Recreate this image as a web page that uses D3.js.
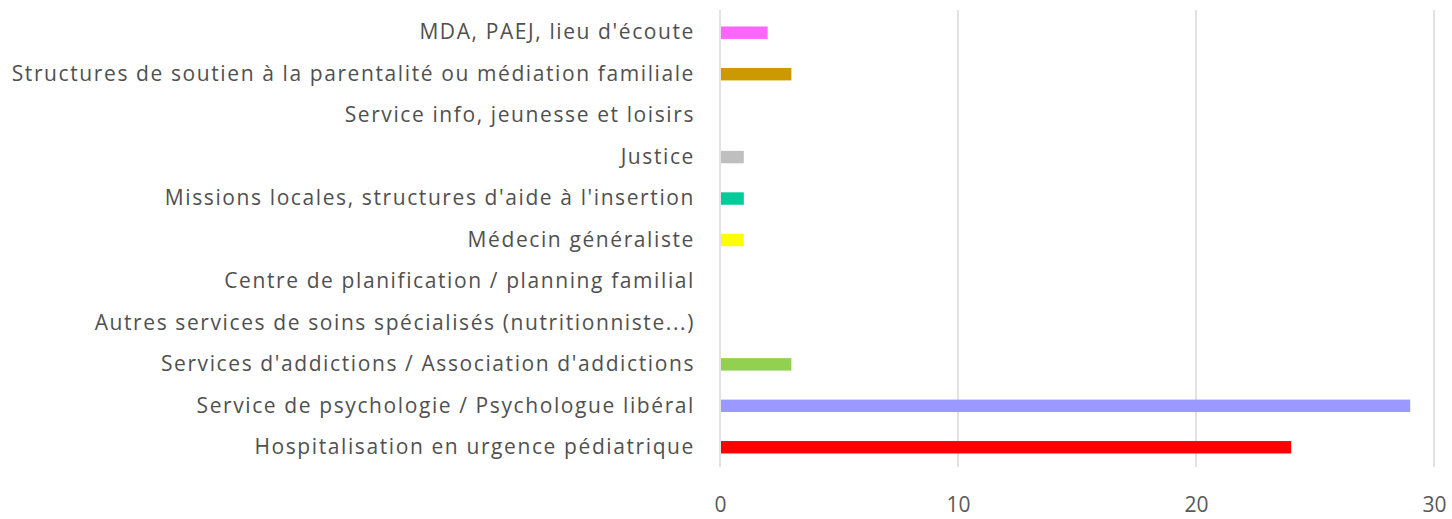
<!DOCTYPE html>
<html>
<head>
<meta charset="utf-8">
<script src="https://cdn.jsdelivr.net/npm/d3@7"></script>
<style>
  body { margin: 0; background: #fff; }
  svg text { font-family: "Open Sans", sans-serif; }
</style>
</head>
<body>
<svg id="chart" width="1452" height="519"></svg>
<script>
// categories, top to bottom
var categories = [
  "MDA, PAEJ, lieu d'écoute",
  "Structures de soutien à la parentalité ou médiation familiale",
  "Service info, jeunesse et loisirs",
  "Justice",
  "Missions locales, structures d'aide à l'insertion",
  "Médecin généraliste",
  "Centre de planification / planning familial",
  "Autres services de soins spécialisés (nutritionniste...)",
  "Services d'addictions / Association d'addictions",
  "Service de psychologie / Psychologue libéral",
  "Hospitalisation en urgence pédiatrique"
];
var values = [2, 3, 0, 1, 1, 1, 0, 0, 3, 29, 24];
var colors = ["#ff66ff", "#cc9900", "#a5a5a5", "#bfbfbf", "#00cc99", "#ffff00",
              "#5b9bd5", "#ed7d31", "#92d050", "#9999ff", "#ff0000"];
var xTicks = [0, 10, 20, 30];

var svg = d3.select("#chart");

var x = d3.scaleLinear().domain([0, 30]).range([720, 1434]);
var y = d3.scaleBand().domain(categories).range([12, 468]).paddingInner(0.7).paddingOuter(0.35);

// gridlines
svg.append("g")
  .selectAll("line")
  .data(xTicks)
  .enter().append("line")
  .attr("x1", function(d) { return x(d); })
  .attr("x2", function(d) { return x(d); })
  .attr("y1", 10)
  .attr("y2", 467)
  .style("stroke", "#d9d9d9")
  .style("stroke-width", 1.5);

// bars
svg.append("g")
  .selectAll("rect")
  .data(values)
  .enter().append("rect")
  .attr("x", x(0) + 1)
  .attr("y", function(d, i) { return y(categories[i]); })
  .attr("width", function(d) { return Math.max(0, x(d) - x(0) - 1); })
  .attr("height", y.bandwidth())
  .style("fill", function(d, i) { return colors[i]; });

// category labels
var yAxis = d3.axisLeft(y).tickSize(0).tickPadding(0);
var gy = svg.append("g")
  .attr("transform", "translate(695,0)")
  .call(yAxis);
gy.select(".domain").remove();
gy.selectAll("text")
  .style("font-size", "21px")
  .style("letter-spacing", "1.6px")
  .style("fill", "#505050");

// x tick labels
var xAxis = d3.axisBottom(x).tickValues(xTicks).tickSize(0).tickPadding(0);
var gx = svg.append("g")
  .attr("transform", "translate(0,497)")
  .call(xAxis);
gx.select(".domain").remove();
gx.selectAll("text")
  .style("font-size", "21px")
  .style("fill", "#595959");
</script>
</body>
</html>
